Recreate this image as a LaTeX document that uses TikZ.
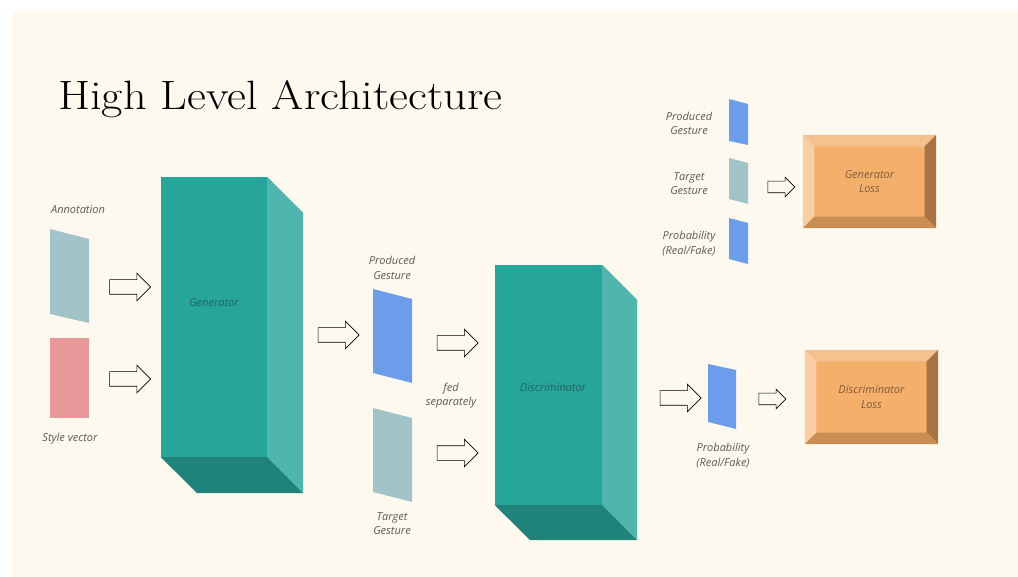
\documentclass[tikz,border=0pt]{standalone}
\usepackage{graphicx}
\usepackage{fontspec}
\newfontfamily\labelfont{Open Sans}
\usetikzlibrary{
  shapes.arrows,
  positioning
}
\definecolor{pagecream}{RGB}{254,249,238}
\definecolor{tealfront}{RGB}{38,166,154}
\definecolor{tealside}{RGB}{78,182,172}
\definecolor{tealbottom}{RGB}{31,131,121}
\definecolor{tealtext}{RGB}{36,96,92}
\definecolor{gestureblue}{RGB}{108,157,235}
\definecolor{targetgray}{RGB}{162,196,201}
\definecolor{stylepink}{RGB}{233,152,153}
\definecolor{labelgray}{RGB}{90,90,90}
\definecolor{lossface}{RGB}{244,175,106}
\definecolor{losstop}{RGB}{246,193,142}
\definecolor{lossleft}{RGB}{249,206,162}
\definecolor{lossright}{RGB}{166,116,66}
\definecolor{lossbottom}{RGB}{204,141,82}
\definecolor{losstext}{RGB}{125,92,60}
\tikzset{
  note/.style={
    font=\labelfont\itshape\fontsize{11}{14.5}\selectfont,
    text=labelgray,
    align=center,
    inner sep=0pt
  },
  blockarrow/.style={
    single arrow,
    draw=black,
    fill=pagecream,
    line width=0.6pt,
    inner sep=7pt,
    single arrow head extend=6.5pt,
    minimum height=41pt
  },
  smallarrow/.style={
    blockarrow,
    inner sep=5.5pt,
    single arrow head extend=4pt,
    minimum height=27pt
  },
  front/.style={
    rectangle,
    fill=tealfront,
    inner sep=0pt,
    text=tealtext,
    font=\labelfont\itshape\fontsize{11}{14.5}\selectfont
  },
  lossbox/.style={
    rectangle,
    fill=lossface,
    inner sep=0pt,
    minimum width=133pt,
    minimum height=93pt,
    align=center,
    text=losstext,
    font=\labelfont\itshape\fontsize{11}{14.5}\selectfont
  },
  title/.style={
    font=\fontsize{41}{41}\selectfont,
    anchor=base west,
    inner sep=0pt
  }
}

\begin{document}
\begin{tikzpicture}[x=1pt,y=-1pt]

% Page.
\useasboundingbox (0,0) rectangle (1018,577);
\fill[white] (0,0) rectangle (1018,577);
\fill[pagecream] (12,11) rectangle (1018,577);

\node[title] (heading) at (58,110) {\scalebox{1.13}[1]{High Level Architecture}};

% Inputs.
\fill[targetgray] (50,229) -- (89,239) -- (89,323) -- (50,314) -- cycle;
\fill[stylepink] (50,338) rectangle (89,418);
\node[note] (annolabel) at (78,210) {Annotation};
\node[note] (stylelabel) at (70,439) {Style vector};

\node[blockarrow] (annoarrow) at (126.5,287) {};
\node[blockarrow] (stylearrow) at (126.5,379) {};

% Generator block.
\node[front, minimum width=106pt, minimum height=280pt] (gen) at (214,317) {};
\fill[tealside] (gen.north east) -- ++(36,36) -- ++(0,280) -- (gen.south east) -- cycle;
\fill[tealbottom] (gen.south west) -- (gen.south east) -- ++(36,36) -- ++(-106,0) -- cycle;
\node[front, fill=none] (gentext) at (214,303) {Generator};

\node[blockarrow] (genarrow) at (335,335) {};

% Produced and target gestures.
\fill[gestureblue] (373,289) -- (412,299) -- (412,383) -- (373,373) -- cycle;
\fill[targetgray] (373,408) -- (412,418) -- (412,502) -- (373,492) -- cycle;
\node[note] (prodlabel) at (392,268) {Produced\\Gesture};
\node[note] (targlabel) at (392,523.5) {Target\\Gesture};
\node[note] (fedlabel) at (451,395.5) {fed\\separately};

\node[blockarrow] (prodarrow) at (454,343) {};
\node[blockarrow] (targarrow) at (454,453) {};

% Discriminator block.
\node[front, minimum width=107pt, minimum height=240pt] (disc) at (548.5,385) {};
\fill[tealside] (disc.north east) -- ++(35,35) -- ++(0,240) -- (disc.south east) -- cycle;
\fill[tealbottom] (disc.south west) -- (disc.south east) -- ++(35,35) -- ++(-107,0) -- cycle;
\node[front, fill=none] (disctext) at (553,388) {Discriminator};

\node[blockarrow] (discarrow) at (677,398) {};

% Probability output.
\fill[gestureblue] (708,364) -- (736,370) -- (736,429) -- (708,422) -- cycle;
\node[note] (problabel) at (723,455.5) {Probability\\(Real/Fake)};

\node[smallarrow] (probarrow) at (769.5,399) {};

% Generator loss inputs.
\fill[gestureblue] (729,99) -- (748,104) -- (748,145) -- (729,141) -- cycle;
\fill[targetgray] (729,158) -- (748,163) -- (748,204) -- (729,199) -- cycle;
\fill[gestureblue] (729,218) -- (748,223) -- (748,264) -- (729,259) -- cycle;
\node[note] (gprodlabel) at (689,123.5) {Produced\\Gesture};
\node[note] (gtarglabel) at (689,183.5) {Target\\Gesture};
\node[note] (gproblabel) at (689,243.5) {Probability\\(Real/Fake)};

\node[smallarrow] (lossarrow) at (778.5,187) {};

% Loss boxes.
\node[lossbox] (genloss) at (869.5,181.5) {Generator\\Loss};
\node[lossbox, minimum height=94pt] (discloss) at (871.5,397) {Discriminator\\Loss};
\foreach \b in {genloss,discloss} {
  \fill[losstop] (\b.north west) -- (\b.north east) -- ([shift={(-11.5,11.5)}]\b.north east) -- ([shift={(11.5,11.5)}]\b.north west) -- cycle;
  \fill[lossleft] (\b.north west) -- ([shift={(11.5,11.5)}]\b.north west) -- ([shift={(11.5,-11.5)}]\b.south west) -- (\b.south west) -- cycle;
  \fill[lossright] (\b.north east) -- (\b.south east) -- ([shift={(-11.5,-11.5)}]\b.south east) -- ([shift={(-11.5,11.5)}]\b.north east) -- cycle;
  \fill[lossbottom] (\b.south west) -- ([shift={(11.5,-11.5)}]\b.south west) -- ([shift={(-11.5,-11.5)}]\b.south east) -- (\b.south east) -- cycle;
}

\end{tikzpicture}
\end{document}
